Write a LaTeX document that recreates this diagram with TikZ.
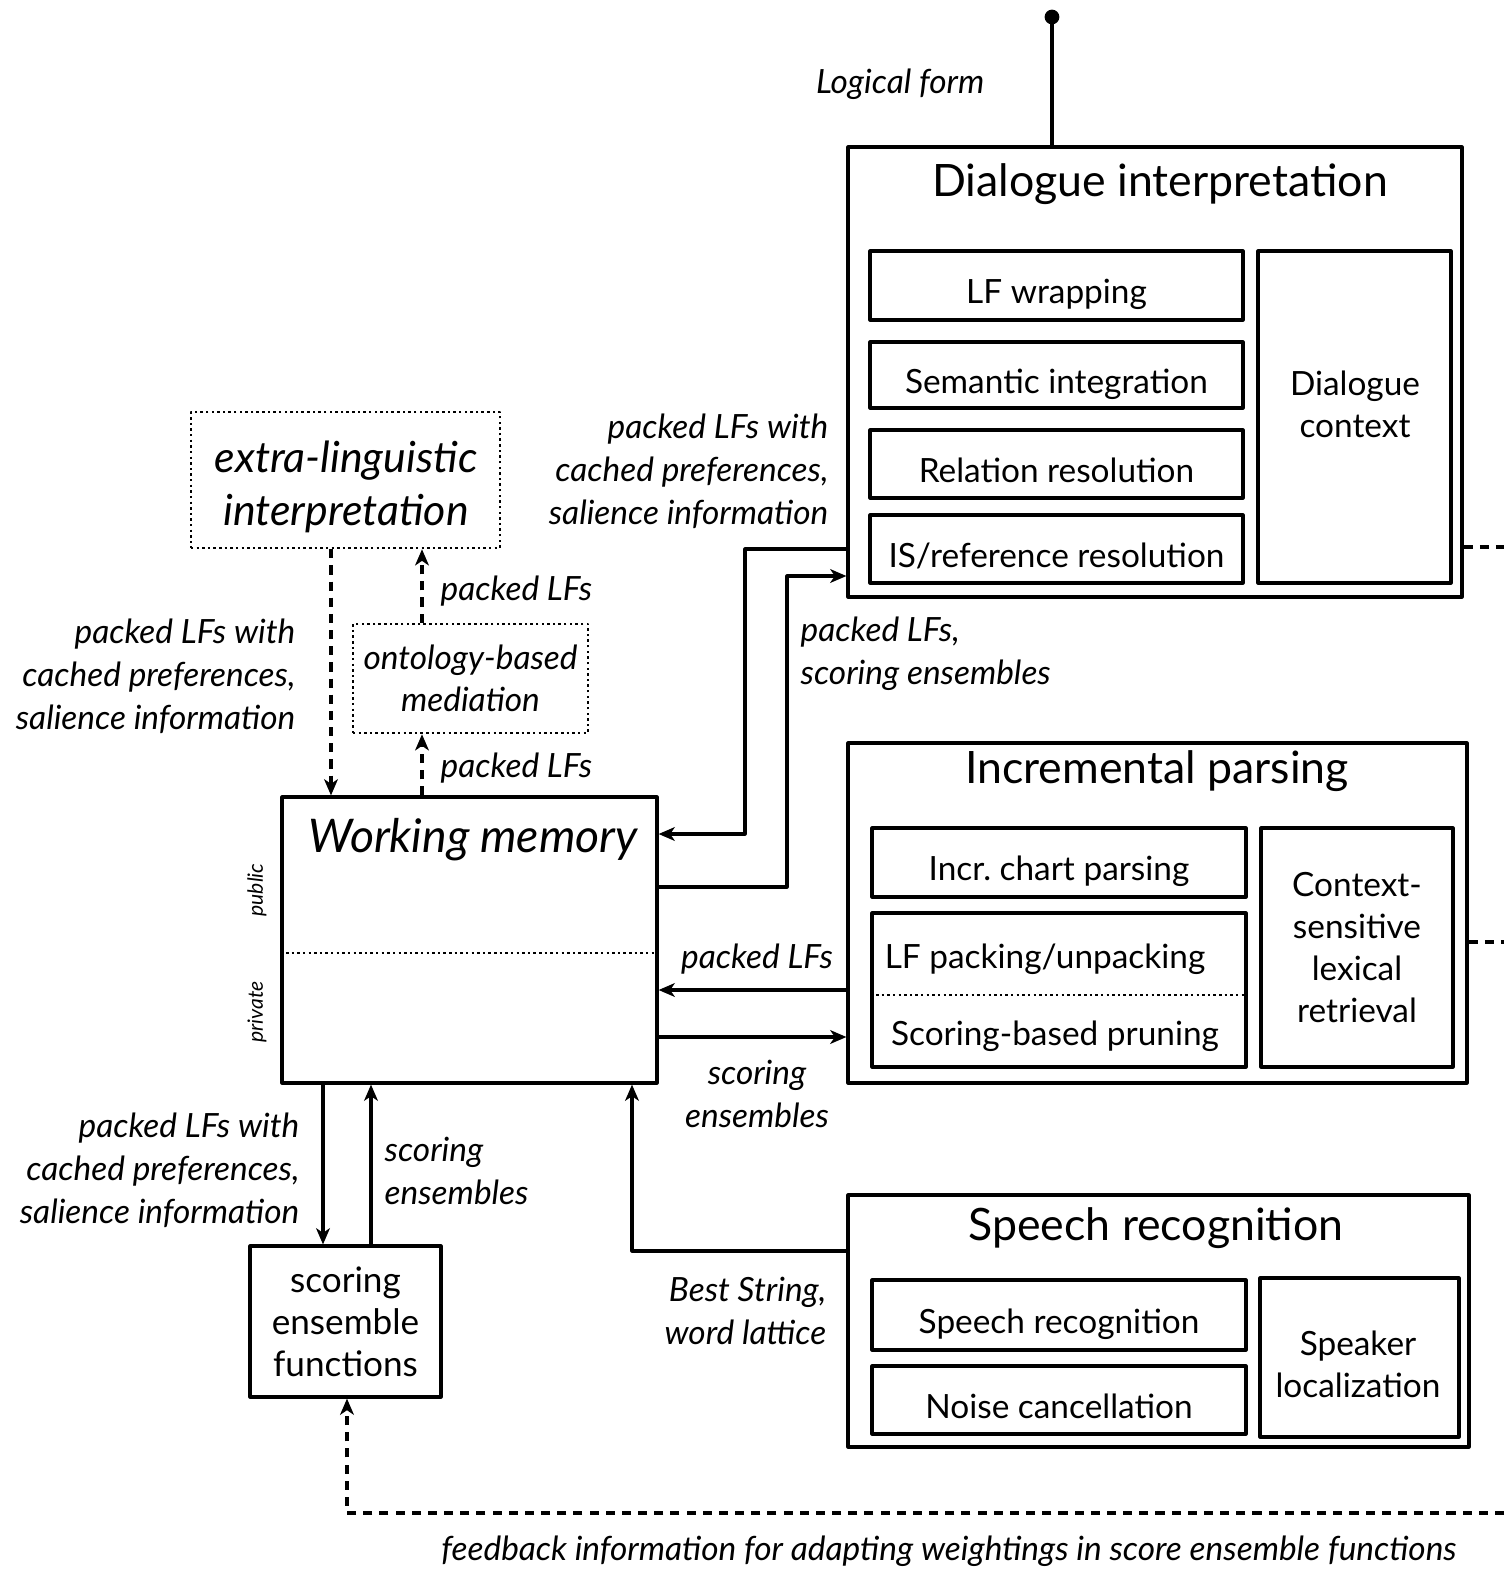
\documentclass[tikz,border=0pt]{standalone}
\usepackage{fontspec}
\setmainfont{Lato}
\usetikzlibrary{arrows.meta}
\begin{document}
\begin{tikzpicture}[x=0.1mm, y=-0.1mm, line join=round, >={Stealth[length=4.6pt,width=3.9pt,inset=1.3pt]},
		box/.style={draw, line width=0.9pt, inner sep=0pt, align=center, font=\fontsize{9.5}{12}\selectfont},
		one/.style={text height=1.05em, text depth=0pt},
		dbox/.style={box, line width=0.7pt, dash pattern=on 0.7pt off 0.9pt},
		ttl/.style={font=\fontsize{12.7}{15}\selectfont},
		lbl/.style={font=\fontsize{9.5}{12.2}\selectfont\itshape, inner sep=0pt},
		con/.style={->, line width=0.9pt},
		dcon/.style={->, line width=0.9pt, dash pattern=on 2.6pt off 2pt},
		dstub/.style={line width=0.9pt, dash pattern=on 2.6pt off 2pt}]
	\useasboundingbox (0,0) rectangle (1504,1571);
	% dialogue interpretation
	\node[box, minimum width=61.4mm, minimum height=45mm] (dlg) at (1155,372) {};
	\node[ttl] (dlgt) at (1160,184) {Dialogue interpretation};
	\node[box, one, minimum width=37.3mm, minimum height=6.9mm] (lfw) at (1056.5,285.5) {LF wrapping};
	\node[box, one, minimum width=37.3mm, minimum height=6.6mm] (sem) at (1056.5,375) {Semantic integration};
	\node[box, one, minimum width=37.3mm, minimum height=6.8mm] (rel) at (1056.5,464) {Relation resolution};
	\node[box, one, minimum width=37.3mm, minimum height=6.8mm] (isr) at (1056.5,549) {IS/reference resolution};
	\node[box, minimum width=19.3mm, minimum height=33.2mm] (ctx) at (1354.5,417) {};
	\node[box, draw=none] (ctxt) at (1355,404) {Dialogue\\context};
	% incremental parsing
	\node[box, minimum width=61.9mm, minimum height=34mm] (inc) at (1157.5,913) {};
	\node[ttl] (inct) at (1157,771) {Incremental parsing};
	\node[box, one, minimum width=37.4mm, minimum height=6.9mm] (chart) at (1059,862.5) {Incr.\ chart parsing};
	\node[box, minimum width=37.4mm, minimum height=15.4mm] (pack) at (1059,990) {};
	\node[box, draw=none] (packt) at (1045,959) {LF packing/unpacking};
	\node[box, draw=none] (prune) at (1055,1036) {Scoring-based pruning};
	\draw[line width=0.7pt, dash pattern=on 0.7pt off 0.9pt] (pack.west |- 0,995) -- (pack.east |- 0,995);
	\node[box, minimum width=19.2mm, minimum height=23.9mm] (lex) at (1357,947.5) {Context-\\sensitive\\lexical\\retrieval};
	% speech recognition
	\node[box, minimum width=62.1mm, minimum height=25.2mm] (spr) at (1158.5,1321) {};
	\node[ttl] (sprt) at (1156,1228) {Speech recognition};
	\node[box, one, minimum width=37.4mm, minimum height=7mm] (srec) at (1059,1315) {Speech recognition};
	\node[box, one, minimum width=37.4mm, minimum height=6.8mm] (noise) at (1059,1400) {Noise cancellation};
	\node[box, minimum width=19.9mm, minimum height=15.9mm] (spk) at (1359.5,1357.5) {};
	\node[box, draw=none] (spkt) at (1358,1364) {Speaker\\localization};
	% working memory and friends
	\node[box, minimum width=37.5mm, minimum height=28.6mm] (wm) at (469.5,940) {};
	\node[font=\fontsize{13.2}{16}\selectfont\itshape] (wmt) at (473,840) {Working memory};
	\draw[line width=0.7pt, dash pattern=on 0.7pt off 0.9pt] (wm.west |- 0,953) -- (wm.east |- 0,953);
	\node[rotate=90, font=\fontsize{6}{7}\selectfont\itshape] (pub) at (257,890) {public};
	\node[rotate=90, font=\fontsize{6}{7}\selectfont\itshape] (priv) at (257,1012) {private};
	\node[dbox, minimum width=30.9mm, minimum height=13.6mm] (extra) at (345.5,480) {};
	\node[font=\fontsize{12.2}{15}\selectfont\itshape, align=center] (extrat) at (346,487) {extra-linguistic\\interpretation};
	\node[dbox, minimum width=23.5mm, minimum height=10.9mm, font=\fontsize{9.5}{12}\selectfont\itshape] (onto) at (470.5,678.5) {ontology-based\\mediation};
	\node[box, minimum width=19.1mm, minimum height=15.1mm, font=\fontsize{10}{12}\selectfont] (score) at (345.5,1321.5) {scoring\\ensemble\\functions};
	% connectors
	\coordinate (lfdot) at (1052,17);
	\draw[line width=0.9pt] (dlg.north -| lfdot) -- (lfdot);
	\fill (lfdot) circle[radius=2.1pt];
	\node[lbl, anchor=east] (lf) at (985,84) {Logical form};
	\draw[con] (isr -| dlg.west) -| (745,834) -- (wm.east |- 0,834);
	\node[lbl, anchor=east, align=right] (l1) at (829,471) {packed LFs with\\cached preferences,\\salience information};
	\draw[con] (wm.east |- 0,887) -| (787,576) -- (dlg.west |- 0,576);
	\node[lbl, anchor=west, align=left] (l2) at (800,654) {packed LFs,\\scoring ensembles};
	\draw[dstub] (dlg.east |- 0,547) -- (1504,547);
	\draw[dstub] (inc.east |- 0,942) -- (1504,942);
	\draw[con] (inc.west |- 0,990) -- (wm.east |- 0,990);
	\node[lbl] (l3) at (757,959) {packed LFs};
	\draw[con] (wm.east |- 0,1037) -- (inc.west |- 0,1037);
	\node[lbl, align=center] (l4) at (757,1094) {scoring\\ensembles};
	\draw[con] (spr.west |- 0,1251) -| (wm.south -| 632,0);
	\node[lbl, anchor=east, align=right] (l5) at (827,1311) {Best String,\\word lattice};
	\draw[con] (wm.south -| 323,0) -- (score.north -| 323,0);
	\node[lbl, anchor=east, align=right] (l6) at (300,1170) {packed LFs with\\cached preferences,\\salience information};
	\draw[con] (score.north -| 371,0) -- (wm.south -| 371,0);
	\node[lbl, anchor=west, align=left] (l7) at (384,1171) {scoring\\ensembles};
	\draw[dcon] (extra.south -| 331,0) -- (wm.north -| 331,0);
	\node[lbl, anchor=east, align=right] (l8) at (296,676) {packed LFs with\\cached preferences,\\salience information};
	\draw[dcon] (wm.north -| 422,0) -- (onto.south -| 422,0);
	\node[lbl, anchor=west] (l9) at (440,768) {packed LFs};
	\draw[dcon] (onto.north -| 422,0) -- (extra.south -| 422,0);
	\node[lbl, anchor=west] (l10) at (440,591) {packed LFs};
	\coordinate (fbend) at (1504,1513);
	\draw[dcon] (fbend) -| (score.south -| 347,0);
	\node[lbl] (l11) at (949,1551) {feedback information for adapting weightings in score ensemble functions};
\end{tikzpicture}
\end{document}
